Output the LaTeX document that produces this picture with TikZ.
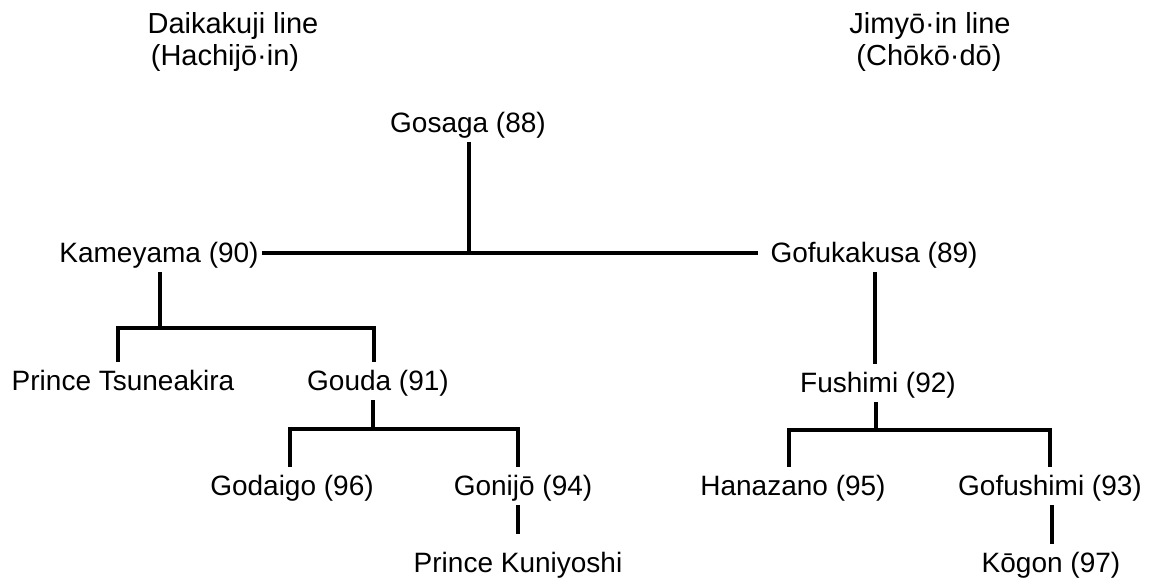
\documentclass[tikz,border=0pt]{standalone}
\usepackage{fontspec}
\setmainfont{Liberation Sans}
\begin{document}
\begin{tikzpicture}[x=1pt,y=-1pt,
  person/.style={font=\fontsize{28}{32}\selectfont, inner xsep=5pt, inner ysep=4pt,
                 text height=24pt, text depth=6pt},
  head/.style={font=\fontsize{29}{33}\selectfont, inner sep=0pt,
               text height=21pt, text depth=6pt},
  link/.style={line width=4.2pt, line cap=butt, line join=miter}]
\useasboundingbox (0,0) rectangle (1156,579);

% line headings
\node[head] (dai1) at (233,25.5) {Daikakuji line};
\node[head] (dai2) at (225,57.5) {(Hachijō·in)};
\node[head] (jim1) at (930,25.5) {Jimyō·in line};
\node[head] (jim2) at (929,57.5) {(Chōkō·dō)};

% emperors and princes
\node[person] (gosaga)    at (468,123) {Gosaga (88)};
\node[person] (kame)      at (159,253) {Kameyama (90)};
\node[person] (gofuk)     at (874,253) {Gofukakusa (89)};
\node[person] (tsune)     at (123,381) {Prince Tsuneakira};
\node[person] (gouda)     at (378,381) {Gouda (91)};
\node[person] (fushimi)   at (878,383) {Fushimi (92)};
\node[person] (godaigo)   at (292,486) {Godaigo (96)};
\node[person] (gonijo)    at (523,486) {Gonijō (94)};
\node[person] (hanaz)     at (793,486) {Hanazano (95)};
\node[person] (gofushimi) at (1050,486) {Gofushimi (93)};
\node[person] (kuni)      at (518,563) {Prince Kuniyoshi};
\node[person] (kogon)     at (1051,563) {Kōgon (97)};

% junction points
\coordinate (g0)  at (469,254);
\coordinate (k0)  at (160,328);
\coordinate (kl)  at (118,328);
\coordinate (kr)  at (374,328);
\coordinate (d0)  at (373,429);
\coordinate (dl)  at (290,429);
\coordinate (dr)  at (518,429);
\coordinate (f0)  at (876,430);
\coordinate (fl)  at (789,430);
\coordinate (fr)  at (1050,430);
\coordinate (gf)  at (1052,500);
\coordinate (fk)  at (875,300);

% Gosaga and his two sons
\draw[link] ([xshift=-2pt]kame.east) -- ([xshift=-7pt]gofuk.west);
\draw[link] (gosaga.south -| g0) -- (g0);

% Daikakuji line
\draw[link] (kame.south -| k0) -- (k0);
\draw[link] (tsune.north -| kl) -- (kl) -- (kr) -- (gouda.north -| kr);
\draw[link] (gouda.south -| d0) -- (d0);
\draw[link] (godaigo.north -| dl) -- (dl) -- (dr) -- (gonijo.north -| dr);
\draw[link, shorten >=10pt] (gonijo.south -| dr) -- (kuni.north -| dr);

% Jimyo-in line
\draw[link] (gofuk.south -| fk) -- (fushimi.north -| fk);
\draw[link] (fushimi.south -| f0) -- (f0);
\draw[link] (hanaz.north -| fl) -- (fl) -- (fr) -- (gofushimi.north -| fr);
\draw[link] (gofushimi.south -| gf) -- (kogon.north -| gf);
\end{tikzpicture}
\end{document}
